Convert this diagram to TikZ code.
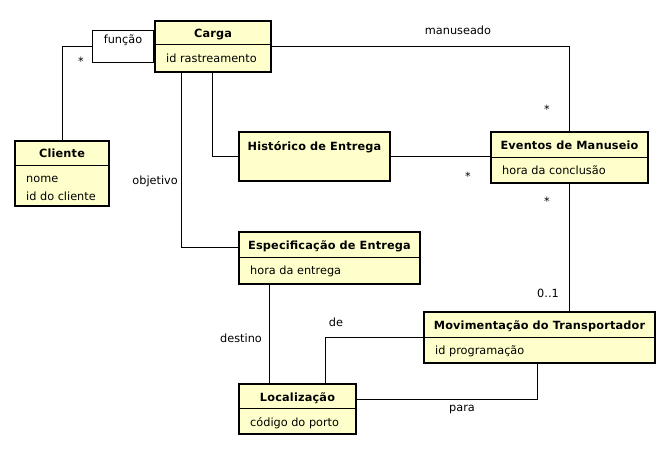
\documentclass[tikz,border=0pt]{standalone}
\usepackage{fontspec}
\setmainfont{DejaVu Sans}[BoldFeatures={LetterSpace=1.5}]
\usetikzlibrary{calc}
\definecolor{clsfill}{RGB}{255,255,204}
\begin{document}
\begin{tikzpicture}[x=1pt,y=-1pt,
  font=\fontsize{11.3}{13.5}\selectfont,
  cls/.style={draw, line width=2pt, fill=clsfill, anchor=north west, inner sep=0pt},
  divider/.style={line width=1pt},
  conn/.style={line width=1pt},
  ttl/.style={font=\fontsize{11.3}{13.5}\selectfont\bfseries, inner sep=0pt, anchor=base},
  attr/.style={anchor=base west, inner sep=0pt},
  lbl/.style={inner sep=0pt}]
\useasboundingbox[fill=white] (0,0) rectangle (672,452);

% qualifier box
\node[draw, line width=1pt, anchor=north east, minimum width=61pt, minimum height=32pt, inner sep=0pt] (qual) at (154,30) {};
\node[lbl] (qualtxt) at (123,40) {função};

% Carga
\node[cls, minimum width=116pt, minimum height=51pt] (carga) at (154,20) {};
\draw[divider] ([yshift=-25pt]carga.north west) -- ([yshift=-25pt]carga.north east);
\node[ttl] (cargat) at ([yshift=-17.5pt]carga.north) {Carga};
\node[attr] (cargaa) at ([xshift=12pt,yshift=-43pt]carga.north west) {id rastreamento};

% Cliente
\node[cls, minimum width=94pt, minimum height=65pt] (cliente) at (14,140) {};
\draw[divider] ([yshift=-25pt]cliente.north west) -- ([yshift=-25pt]cliente.north east);
\node[ttl] (clientet) at ([yshift=-17.5pt]cliente.north) {Cliente};
\node[attr] (clientea1) at ([xshift=12pt,yshift=-42.5pt]cliente.north west) {nome};
\node[attr] (clientea2) at ([xshift=12pt,yshift=-60.5pt]cliente.north west) {id do cliente};

% Historico
\node[cls, minimum width=151pt, minimum height=49pt] (hist) at (238,131) {};
\node[ttl] (histt) at ([yshift=-19pt]hist.north) {Histórico de Entrega};

% Eventos
\node[cls, minimum width=157pt, minimum height=51pt] (ev) at (490,131) {};
\draw[divider] ([yshift=-26pt]ev.north west) -- ([yshift=-26pt]ev.north east);
\node[ttl] (evt) at ([yshift=-18.5pt]ev.north) {Eventos de Manuseio};
\node[attr] (eva) at ([xshift=12pt,yshift=-43.5pt]ev.north west) {hora da conclusão};

% Especificacao
\node[cls, minimum width=181pt, minimum height=52pt] (espec) at (238,231) {};
\draw[divider] ([yshift=-26pt]espec.north west) -- ([yshift=-26pt]espec.north east);
\node[ttl] (espect) at ([yshift=-18.5pt]espec.north) {Especificação de Entrega};
\node[attr] (speca) at ([xshift=12pt,yshift=-43.5pt]espec.north west) {hora da entrega};

% Movimentacao
\node[cls, minimum width=231pt, minimum height=51pt] (mov) at (423,311) {};
\draw[divider] ([yshift=-26pt]mov.north west) -- ([yshift=-26pt]mov.north east);
\node[ttl] (movt) at ([yshift=-18.5pt]mov.north) {Movimentação do Transportador};
\node[attr] (mova) at ([xshift=12pt,yshift=-43.5pt]mov.north west) {id programação};

% Localizacao
\node[cls, minimum width=117pt, minimum height=50pt] (loc) at (238,383) {};
\draw[divider] ([yshift=-25pt]loc.north west) -- ([yshift=-25pt]loc.north east);
\node[ttl] (loct) at ([yshift=-18pt]loc.north) {Localização};
\node[attr] (loca) at ([xshift=12pt,yshift=-43pt]loc.north west) {código do porto};

% connectors
\draw[conn] (cliente.north) |- (qual.west);
\draw[conn] ([xshift=27pt]carga.south west) |- ([yshift=-16pt]espec.north west);
\draw[conn] ([xshift=58pt]carga.south west) |- (hist.west);
\draw[conn] (carga.east) -| (ev.north);
\draw[conn] (hist.east) -- (hist.east -| ev.west);
\draw[conn] (ev.south) -- (ev.south |- mov.north);
\draw[conn] ([xshift=31pt]espec.south west) -- ([xshift=31pt]loc.north west);
\draw[conn] (mov.west) -| ([xshift=87pt]loc.north west);
\draw[conn] ([xshift=114pt]mov.south west) |- ([yshift=-16pt]loc.north east);

% labels
\node[lbl] (l1) at (81,61) {*};
\node[lbl] (l2) at (458,30) {manuseado};
\node[lbl] (l3) at (547,109) {*};
\node[lbl] (l4) at (468,176) {*};
\node[lbl] (l5) at (547,201) {*};
\node[lbl] (l6) at (548,293) {0..1};
\node[lbl, anchor=east] (l7) at (178,181) {objetivo};
\node[lbl] (l8) at (241,338) {destino};
\node[lbl] (l9) at (336,322) {de};
\node[lbl] (l10) at (462,410) {para};
\end{tikzpicture}
\end{document}
